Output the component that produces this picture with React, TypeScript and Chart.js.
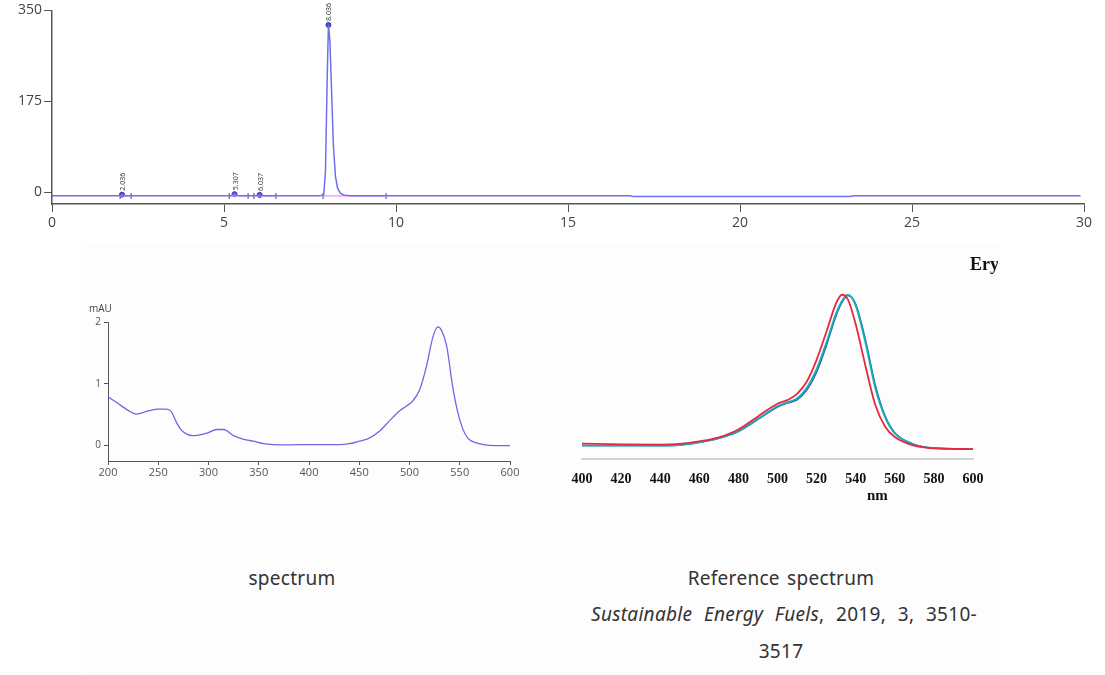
import React, { useEffect, useRef } from "react";
import { Chart, registerables } from "chart.js";
Chart.register(...registerables);

// ---------- Chromatogram (top) ----------
const chromTime = [0, 1.9, 1.98, 2.036, 2.1, 2.2, 4.85, 5.2, 5.307, 5.4, 5.5, 5.9, 6.037, 6.15, 7.8, 7.9, 7.95, 8.0, 8.036, 8.08, 8.13, 8.18, 8.24, 8.3, 8.38, 8.5, 8.7, 16.8, 16.9, 23.2, 23.3, 29.9];
const chromSignal = [-7, -7, -6.5, -5, -6.5, -7, -7, -7, -4, -6.5, -7, -7, -5.5, -7, -7, -5, 40, 220, 322, 290, 190, 90, 30, 8, -2, -6, -7, -7, -8.5, -8.5, -7, -7];
const peakTimes = [2.036, 5.307, 6.037, 8.036];
const peakHeights = [-5, -4, -5.5, 322];
const peakLabels = ["2.036", "5.307", "6.037", "8.036"];
const integStart = [1.98, 5.15, 5.87, 7.88];
const integEnd = [2.3, 5.7, 6.51, 9.71];
const integLevel = -7.5;
const chromXTicks = [0, 5, 10, 15, 20, 25, 30];
const chromYTicks = [0, 175, 350];

// ---------- Measured spectrum (bottom left) ----------
const specWl = [200, 210, 220, 228, 240, 250, 258, 263, 268, 273, 278, 284, 290, 300, 308, 315, 325, 335, 345, 355, 365, 375, 390, 410, 430, 440, 450, 460, 470, 480, 490, 497, 503, 510, 517, 523, 528, 532, 537, 543, 548, 553, 558, 565, 575, 585, 600];
const specAbs = [0.79, 0.68, 0.57, 0.51, 0.56, 0.59, 0.59, 0.55, 0.38, 0.25, 0.19, 0.16, 0.17, 0.21, 0.26, 0.26, 0.16, 0.1, 0.07, 0.03, 0.015, 0.01, 0.015, 0.015, 0.015, 0.03, 0.07, 0.12, 0.23, 0.4, 0.56, 0.64, 0.72, 0.9, 1.29, 1.74, 1.92, 1.86, 1.61, 0.95, 0.54, 0.27, 0.12, 0.05, 0.01, 0.0, 0.0];
const specXTicks = [200, 250, 300, 350, 400, 450, 500, 550, 600];
const specYTicks = [0, 1, 2];

// ---------- Reference spectrum (bottom right) ----------
const refWl = [400, 420, 440, 450, 460, 470, 480, 490, 500, 505, 510, 515, 520, 525, 530, 533, 536, 540, 545, 550, 555, 560, 570, 580, 600];
const refRed = [0.039, 0.034, 0.032, 0.037, 0.054, 0.08, 0.13, 0.215, 0.297, 0.32, 0.36, 0.44, 0.58, 0.76, 0.946, 1.0, 0.97, 0.81, 0.54, 0.29, 0.15, 0.082, 0.026, 0.009, 0.004];
const refTeal = [0.026, 0.026, 0.026, 0.03, 0.048, 0.075, 0.12, 0.2, 0.28, 0.305, 0.33, 0.4, 0.52, 0.69, 0.88, 0.96, 1.0, 0.93, 0.69, 0.4, 0.21, 0.105, 0.033, 0.01, 0.004];
const refBlue = [0.027, 0.026, 0.026, 0.03, 0.047, 0.073, 0.117, 0.195, 0.275, 0.3, 0.322, 0.385, 0.5, 0.67, 0.865, 0.95, 0.995, 0.94, 0.71, 0.42, 0.22, 0.11, 0.035, 0.011, 0.004];
const refXTicks = [400, 420, 440, 460, 480, 500, 520, 540, 560, 580, 600];

const pairs = (xs: number[], ys: number[]) => xs.map((x, i) => ({ x, y: ys[i] }));

const peakLabelPlugin = {
  id: "peakLabels",
  afterDatasetsDraw(chart: any) {
    const { ctx, scales } = chart;
    const x = scales.x, y = scales.y;
    ctx.save();
    ctx.font = '7px "Open Sans"';
    ctx.fillStyle = "#333";
    peakTimes.forEach((t, i) => {
      const px = x.getPixelForValue(t);
      const py = y.getPixelForValue(peakHeights[i]);
      ctx.save();
      ctx.translate(px + 1, py - 4);
      ctx.rotate(-Math.PI / 2);
      ctx.textBaseline = "middle";
      ctx.textAlign = "left";
      ctx.fillText(peakLabels[i], 0, 0);
      ctx.restore();
    });
    ctx.restore();
  },
};

function useChart(ref: React.RefObject<HTMLCanvasElement | null>, make: (c: HTMLCanvasElement) => Chart) {
  useEffect(() => {
    if (!ref.current) return;
    const ch = make(ref.current);
    return () => ch.destroy();
  }, []);
}

export default function App() {
  const topRef = useRef<HTMLCanvasElement>(null);
  const leftRef = useRef<HTMLCanvasElement>(null);
  const rightRef = useRef<HTMLCanvasElement>(null);

  useChart(topRef, (c) => {
    const pink: any[] = [];
    integStart.forEach((s, i) => {
      pink.push({ x: s, y: integLevel }, { x: integEnd[i], y: integLevel }, { x: integEnd[i] + 0.01, y: null });
    });
    const marks: any[] = [];
    integStart.forEach((s, i) => {
      marks.push({ x: s, y: integLevel }, { x: integEnd[i], y: integLevel });
    });
    return new Chart(c, {
      type: "line",
      data: {
        datasets: [
          { data: pairs(chromTime, chromSignal), borderColor: "#6e6ef0", borderWidth: 1.5, pointRadius: 0, tension: 0 },
          { data: pink, borderColor: "#f28cf0", borderWidth: 1.2, pointRadius: 0, spanGaps: false },
          { data: marks, showLine: false, pointStyle: "line", rotation: 90, pointRadius: 3, borderColor: "#3b3b9a", borderWidth: 1 },
          { data: pairs(peakTimes, peakHeights), showLine: false, pointStyle: "circle", pointRadius: 2.5, backgroundColor: "#4d4dd0", borderColor: "#3a3aa8", borderWidth: 1 },
        ],
      } as any,
      options: {
        responsive: false,
        animation: false,
        layout: { padding: { left: 0, right: 21, top: 10, bottom: 0 } },
        plugins: { legend: { display: false }, tooltip: { enabled: false } },
        scales: {
          x: {
            type: "linear", min: 0, max: 30,
            afterBuildTicks: (s: any) => { s.ticks = chromXTicks.map((v) => ({ value: v })); },
            afterFit: (s: any) => { s.height = 36; },
            grid: { display: true, drawOnChartArea: false, drawTicks: true, tickLength: 8, color: "#555" },
            border: { display: true, color: "#555", width: 1.5 },
            ticks: { padding: 3, color: "#444", maxRotation: 0, font: { family: "Open Sans", size: 14 } },
          },
          y: {
            type: "linear", min: -23, max: 350,
            afterBuildTicks: (s: any) => { s.ticks = chromYTicks.map((v) => ({ value: v })); },
            afterFit: (s: any) => { s.width = 52; },
            grid: { display: true, drawOnChartArea: false, drawTicks: true, tickLength: 8, color: "#555" },
            border: { display: true, color: "#555", width: 1.5 },
            ticks: { padding: 2, color: "#444", font: { family: "Open Sans", size: 14 } },
          },
        },
      } as any,
      plugins: [peakLabelPlugin],
    });
  });

  useChart(leftRef, (c) =>
    new Chart(c, {
      type: "line",
      data: {
        datasets: [
          { data: pairs(specWl, specAbs), borderColor: "#7466e2", borderWidth: 1.3, pointRadius: 0, tension: 0.4, cubicInterpolationMode: "monotone" },
        ],
      } as any,
      options: {
        responsive: false,
        animation: false,
        layout: { padding: { left: 0, right: 30, top: 22, bottom: 0 } },
        plugins: { legend: { display: false }, tooltip: { enabled: false } },
        scales: {
          x: {
            type: "linear", min: 200, max: 600,
            afterBuildTicks: (s: any) => { s.ticks = specXTicks.map((v) => ({ value: v })); },
            afterFit: (s: any) => { s.height = 39; },
            grid: { display: true, drawOnChartArea: false, drawTicks: true, tickLength: 4, color: "#555" },
            border: { display: true, color: "#555", width: 1 },
            ticks: { padding: 1, color: "#555", maxRotation: 0, font: { family: "Open Sans", size: 11 } },
          },
          y: {
            type: "linear", min: -0.25, max: 2,
            afterBuildTicks: (s: any) => { s.ticks = specYTicks.map((v) => ({ value: v })); },
            afterFit: (s: any) => { s.width = 48; },
            grid: { display: true, drawOnChartArea: false, drawTicks: true, tickLength: 4, color: "#555" },
            border: { display: true, color: "#555", width: 1 },
            ticks: { padding: 3, color: "#555", font: { family: "Open Sans", size: 10 } },
          },
        },
      } as any,
    })
  );

  useChart(rightRef, (c) =>
    new Chart(c, {
      type: "line",
      data: {
        datasets: [
          { data: pairs(refWl, refRed), borderColor: "#e8283c", borderWidth: 1.8, pointRadius: 0, tension: 0.4, cubicInterpolationMode: "monotone" },
          { data: pairs(refWl, refTeal), borderColor: "#12aebd", borderWidth: 1.8, pointRadius: 0, tension: 0.4, cubicInterpolationMode: "monotone" },
          { data: pairs(refWl, refBlue), borderColor: "#2b5e9c", borderWidth: 1.4, pointRadius: 0, tension: 0.4, cubicInterpolationMode: "monotone" },
        ],
      } as any,
      options: {
        responsive: false,
        animation: false,
        layout: { padding: { left: 22, right: 32, top: 27, bottom: 0 } },
        plugins: { legend: { display: false }, tooltip: { enabled: false } },
        scales: {
          x: {
            type: "linear", min: 400, max: 600,
            afterBuildTicks: (s: any) => { s.ticks = refXTicks.map((v) => ({ value: v })); },
            afterFit: (s: any) => { s.height = 51; },
            grid: { display: false },
            border: { display: true, color: "#d4d4d4", width: 2 },
            ticks: { padding: 4, color: "#111", maxRotation: 0, font: { family: "Liberation Serif", size: 14, weight: "bold" } },
          },
          y: { type: "linear", min: -0.06, max: 1.05, display: false },
        },
      } as any,
    })
  );

  const abs = (l: number, t: number, extra: React.CSSProperties = {}): React.CSSProperties => ({ position: "absolute", left: l, top: t, ...extra });
  const cap: React.CSSProperties = { fontFamily: '"Noto Sans", sans-serif', fontSize: 19, color: "#333", whiteSpace: "nowrap", textAlign: "center", lineHeight: "24px", letterSpacing: "0.3px", wordSpacing: "2px" };

  return (
    <div style={{ position: "absolute", left: 0, top: 0, width: 1105, height: 675, background: "#fff", overflow: "hidden" }}>
      <div style={abs(82, 245, { width: 918, height: 430, background: "#fdfdfd" })} />
      <canvas ref={topRef} width={1105} height={240} style={abs(0, 0, { width: 1105, height: 240 })} />
      <canvas ref={leftRef} width={480} height={200} style={abs(60, 300, { width: 480, height: 200 })} />
      <canvas ref={rightRef} width={445} height={250} style={abs(560, 260, { width: 445, height: 250 })} />
      <div style={abs(89, 301, { fontFamily: '"Open Sans", sans-serif', fontSize: 10, color: "#444" })}>mAU</div>
      <div style={abs(970, 254, { width: 28, overflow: "hidden", fontFamily: '"Liberation Serif", serif', fontWeight: "bold", fontSize: 18, color: "#111", whiteSpace: "nowrap" })}>Ery</div>
      <div style={abs(867, 487, { fontFamily: '"Liberation Serif", serif', fontWeight: "bold", fontSize: 15, color: "#111" })}>nm</div>
      <div style={abs(192, 566, { ...cap, width: 200 })}>spectrum</div>
      <div style={abs(581, 566, { ...cap, width: 400 })}>Reference spectrum</div>
      <div style={abs(591, 602, { ...cap, width: 386, wordSpacing: 0, textAlign: "justify", textAlignLast: "justify" } as any)}><i>Sustainable Energy Fuels</i>, 2019, 3, 3510-</div>
      <div style={abs(581, 639, { ...cap, width: 400 })}>3517</div>
    </div>
  );
}
